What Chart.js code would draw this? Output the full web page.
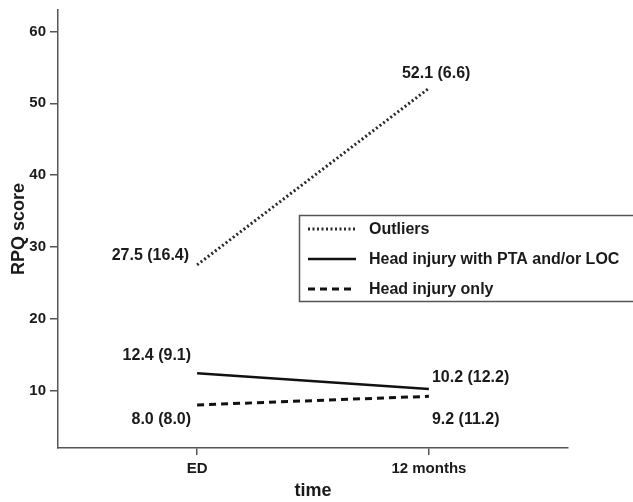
<!DOCTYPE html>
<html>
<head>
<meta charset="utf-8">
<script src="https://cdn.jsdelivr.net/npm/chart.js@4.4.1/dist/chart.umd.min.js"></script>
<style>
  html, body { margin: 0; padding: 0; background: #fff; }
  #wrap { width: 633px; height: 502px; }
</style>
</head>
<body>
<div id="wrap"><canvas id="rpqChart" width="633" height="502"></canvas></div>
<script>
const timepoints = ['ED', '12 months'];
const groups = ['Outliers', 'Head injury with PTA and/or LOC', 'Head injury only'];
const outliersMean = [27.5, 52.1];
const outliersSD = [16.4, 6.6];
const ptaMean = [12.4, 10.2];
const ptaSD = [9.1, 12.2];
const headOnlyMean = [8.0, 9.2];
const headOnlySD = [8.0, 11.2];
const yTicks = [10, 20, 30, 40, 50, 60];

const FONT = '"Liberation Sans", Arial, sans-serif';
const INK = '#1a1a1a';

const toPoints = (vals) => vals.map((v, i) => ({ x: i, y: v }));

// where each value label sits relative to its point: [dx, dy, align]
const labelPlacement = [
    [[-8, -9, 'right'], [-27, -15, 'left']],
    [[-6, -18, 'right'], [3, -12, 'left']],
    [[-6, 15, 'right'], [3, 23, 'left']]
];
const sdSets = [outliersSD, ptaSD, headOnlySD];

const valueLabels = {
    id: 'valueLabels',
    afterDatasetsDraw(chart) {
        const ctx = chart.ctx;
        ctx.save();
        ctx.font = 'bold 16px ' + FONT;
        ctx.fillStyle = INK;
        ctx.textBaseline = 'middle';
        chart.data.datasets.forEach((ds, d) => {
            const meta = chart.getDatasetMeta(d);
            meta.data.forEach((pt, i) => {
                const p = labelPlacement[d][i];
                const txt = ds.data[i].y.toFixed(1) + ' (' + sdSets[d][i].toFixed(1) + ')';
                ctx.textAlign = p[2];
                ctx.fillText(txt, pt.x + p[0], pt.y + p[1]);
            });
        });
        ctx.restore();
    }
};

const boxLegend = {
    id: 'boxLegend',
    afterDraw(chart) {
        const ctx = chart.ctx;
        ctx.save();
        ctx.strokeStyle = '#555';
        ctx.lineWidth = 1.5;
        ctx.strokeRect(299.5, 215.5, 345, 86);
        ctx.font = 'bold 16px ' + FONT;
        ctx.textBaseline = 'middle';
        ctx.textAlign = 'left';
        const rows = [229, 259, 289];
        chart.data.datasets.forEach((ds, d) => {
            const y = rows[d];
            ctx.beginPath();
            ctx.setLineDash(ds.borderDash || []);
            ctx.lineWidth = ds.borderWidth;
            ctx.strokeStyle = ds.borderColor;
            ctx.moveTo(308, y);
            ctx.lineTo(356, y);
            ctx.stroke();
            ctx.setLineDash([]);
            ctx.fillStyle = INK;
            ctx.fillText(ds.label, 369, y + 1);
        });
        ctx.restore();
    }
};

const data = {
    datasets: [
        {
            label: groups[0],
            data: toPoints(outliersMean),
            borderColor: '#2a2a2a',
            borderWidth: 3,
            borderDash: [2, 2.5],
            pointRadius: 0
        },
        {
            label: groups[1],
            data: toPoints(ptaMean),
            borderColor: '#111',
            borderWidth: 2.5,
            pointRadius: 0
        },
        {
            label: groups[2],
            data: toPoints(headOnlyMean),
            borderColor: '#111',
            borderWidth: 3,
            borderDash: [7, 5],
            pointRadius: 0
        }
    ]
};

const config = {
    type: 'line',
    data: data,
    plugins: [valueLabels, boxLegend],
    options: {
        responsive: false,
        animation: false,
        layout: { padding: { top: 10, right: 65, left: 0, bottom: 0 } },
        plugins: {
            legend: { display: false },
            tooltip: { enabled: false }
        },
        scales: {
            x: {
                type: 'linear',
                min: -0.6,
                max: 1.6,
                afterBuildTicks: (axis) => { axis.ticks = timepoints.map((t, i) => ({ value: i })); },
                afterFit: (axis) => { axis.height = 54; },
                ticks: {
                    callback: (v) => timepoints[v],
                    color: INK,
                    font: { family: FONT, size: 15, weight: 'bold' },
                    padding: 5
                },
                grid: { drawOnChartArea: false, drawTicks: true, tickLength: 7, color: '#555', lineWidth: 1.5 },
                border: { display: true, color: '#555', width: 1.5 },
                title: {
                    display: true,
                    text: 'time',
                    color: INK,
                    font: { family: FONT, size: 18, weight: 'bold' },
                    padding: { top: 2, bottom: 0 }
                }
            },
            y: {
                min: 2,
                max: 63,
                afterBuildTicks: (axis) => { axis.ticks = yTicks.map(v => ({ value: v })); },
                afterFit: (axis) => { axis.width = 58; axis.paddingTop = 0; axis.paddingBottom = 0; },
                ticks: {
                    color: INK,
                    font: { family: FONT, size: 15, weight: 'bold', lineHeight: 1 },
                    padding: 4
                },
                grid: { drawOnChartArea: false, drawTicks: true, tickLength: 8, color: '#555', lineWidth: 1.5 },
                border: { display: true, color: '#555', width: 1.5 },
                title: {
                    display: true,
                    text: 'RPQ score',
                    color: INK,
                    font: { family: FONT, size: 18, weight: 'bold' },
                    padding: { top: 8, bottom: 0 }
                }
            }
        }
    }
};

const ctx = document.getElementById('rpqChart').getContext('2d');
new Chart(ctx, config);
</script>
</body>
</html>
